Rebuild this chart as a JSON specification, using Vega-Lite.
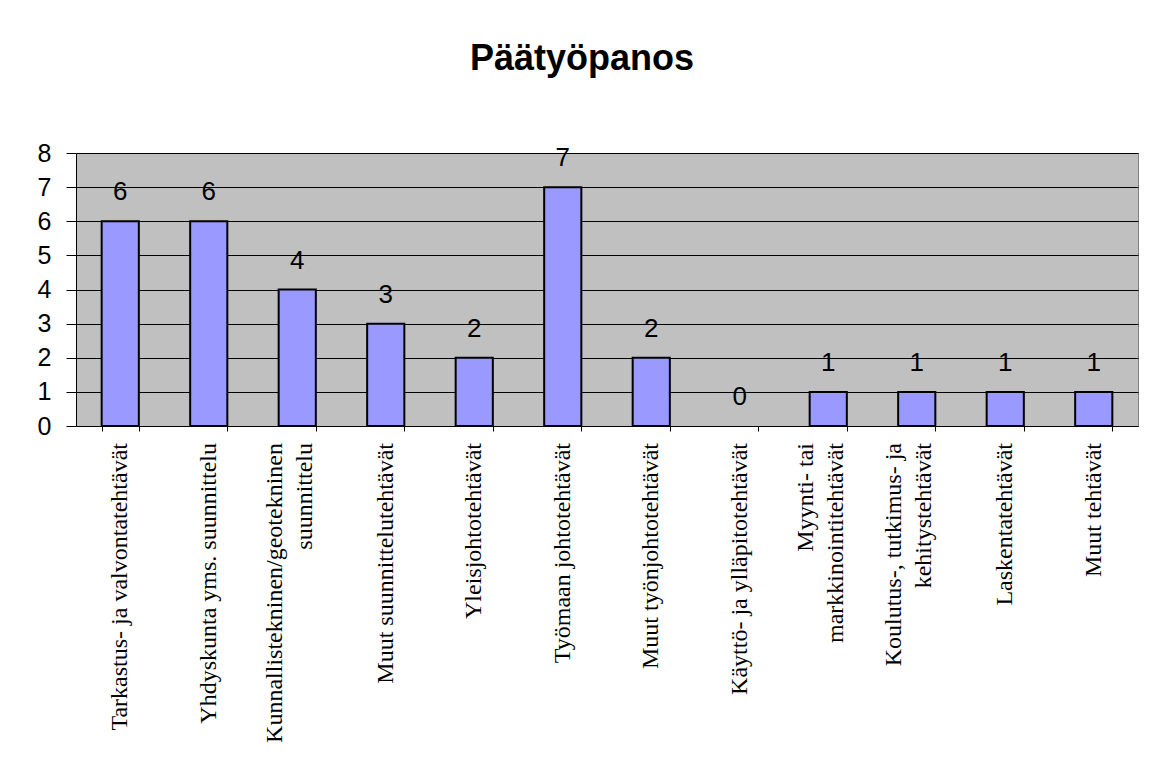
{
  "$schema": "https://vega.github.io/schema/vega-lite/v6.json",
  "autosize": {"type": "none"},
  "width": 1062,
  "height": 273,
  "padding": {"left": 76, "top": 153, "right": 14, "bottom": 338},
  "background": "#ffffff",
  "title": {
    "text": "Päätyöpanos",
    "font": "Liberation Sans",
    "fontSize": 36,
    "fontWeight": "bold",
    "color": "#000000",
    "anchor": "middle",
    "frame": "group",
    "baseline": "alphabetic",
    "dx": -25,
    "offset": 35
  },
  "data": {
    "values": [
      {"tehtava": "Tarkastus- ja valvontatehtävät", "lkm": 6},
      {"tehtava": "Yhdyskunta yms. suunnittelu", "lkm": 6},
      {"tehtava": "Kunnallistekninen/geotekninen\nsuunnittelu", "lkm": 4},
      {"tehtava": "Muut suunnittelutehtävät", "lkm": 3},
      {"tehtava": "Yleisjohtotehtävät", "lkm": 2},
      {"tehtava": "Työmaan johtotehtävät", "lkm": 7},
      {"tehtava": "Muut työnjohtotehtävät", "lkm": 2},
      {"tehtava": "Käyttö- ja ylläpitotehtävät", "lkm": 0},
      {"tehtava": "Myynti- tai\nmarkkinointitehtävät", "lkm": 1},
      {"tehtava": "Koulutus-, tutkimus- ja\nkehitystehtävät", "lkm": 1},
      {"tehtava": "Laskentatehtävät", "lkm": 1},
      {"tehtava": "Muut tehtävät", "lkm": 1}
    ]
  },
  "encoding": {
    "x": {
      "field": "tehtava",
      "type": "nominal",
      "sort": null,
      "scale": {"paddingInner": 0.58, "paddingOuter": 0.29},
      "axis": {
        "title": null,
        "labels": false,
        "tickBand": "extent",
        "tickSize": 5,
        "tickColor": "#000000",
        "domainColor": "#000000",
        "domainWidth": 1,
        "grid": false
      }
    },
    "y": {
      "field": "lkm",
      "type": "quantitative",
      "scale": {"domain": [0, 8], "nice": false},
      "axis": {
        "title": null,
        "values": [0, 1, 2, 3, 4, 5, 6, 7, 8],
        "labelFont": "Liberation Sans",
        "labelFontSize": 25,
        "labelColor": "#000000",
        "labelPadding": 15,
        "tickSize": 10,
        "tickColor": "#000000",
        "domainColor": "#000000",
        "grid": true,
        "gridColor": "#000000",
        "gridWidth": 1
      }
    }
  },
  "layer": [
    {
      "mark": {"type": "bar", "fill": "#9999ff", "stroke": "#000000", "strokeWidth": 2},
      "encoding": {
        "strokeOpacity": {"condition": {"test": "datum.lkm == 0", "value": 0}, "value": 1}
      }
    },
    {
      "mark": {
        "type": "text",
        "font": "Liberation Sans",
        "fontSize": 26,
        "color": "#000000",
        "baseline": "alphabetic",
        "dy": -21
      },
      "encoding": {
        "text": {"field": "lkm", "type": "quantitative"}
      }
    },
    {
      "transform": [{"filter": "indexof(datum.tehtava, '\\n') < 0"}],
      "mark": {
        "type": "text",
        "font": "Liberation Serif",
        "fontSize": 24,
        "color": "#000000",
        "angle": 270,
        "align": "right",
        "baseline": "middle",
        "lineBreak": "\n",
        "lineHeight": 30
      },
      "encoding": {
        "y": {"datum": 0, "type": "quantitative"},
        "yOffset": {"value": 17},
        "text": {"field": "tehtava"}
      }
    },
    {
      "transform": [{"filter": "indexof(datum.tehtava, '\\n') >= 0"}],
      "mark": {
        "type": "text",
        "font": "Liberation Serif",
        "fontSize": 24,
        "color": "#000000",
        "angle": 270,
        "align": "right",
        "baseline": "middle",
        "lineBreak": "\n",
        "lineHeight": 30
      },
      "encoding": {
        "y": {"datum": 0, "type": "quantitative"},
        "yOffset": {"value": 17},
        "xOffset": {"value": -4},
        "text": {"field": "tehtava"}
      }
    }
  ],
  "config": {
    "view": {"fill": "#c0c0c0", "stroke": "#808080", "strokeWidth": 1}
  }
}
